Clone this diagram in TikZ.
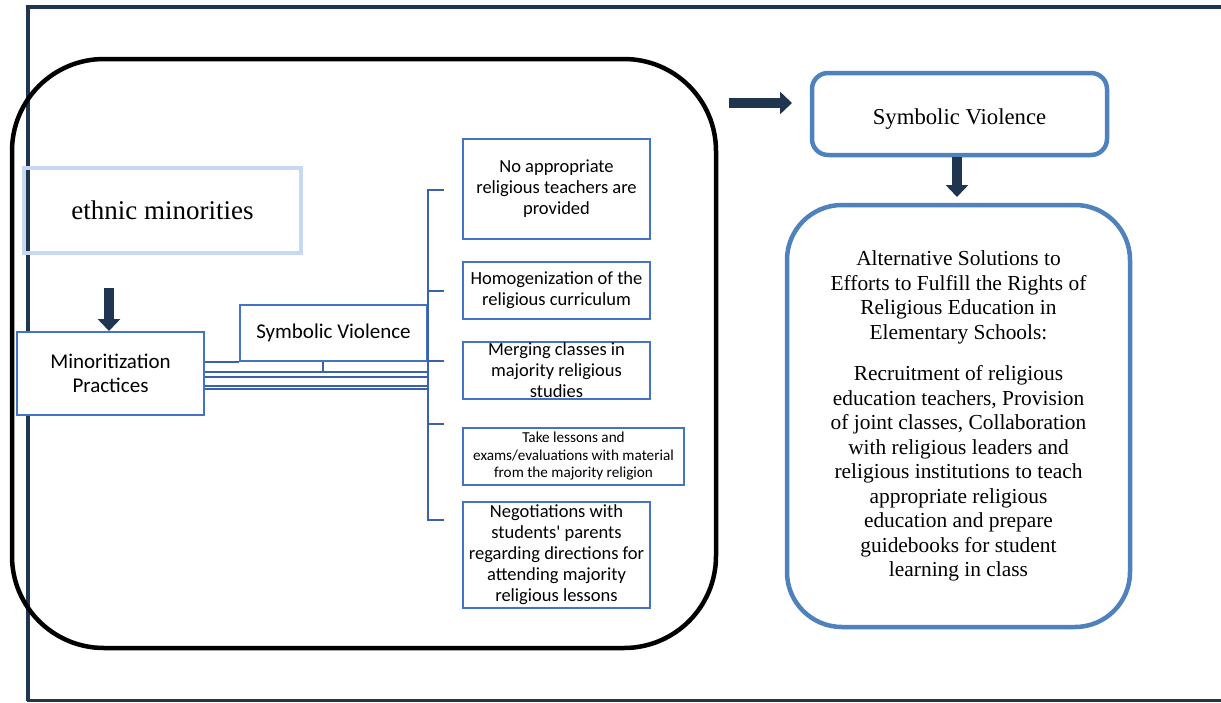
\documentclass[tikz,border=0pt]{standalone}
\usepackage{fontspec}
\setsansfont{Carlito}
\newfontfamily\timesf{Liberation Serif}
\usetikzlibrary{arrows.meta,calc}
\definecolor{navy}{HTML}{1F3550}
\definecolor{boxblue}{HTML}{4472C4}
\definecolor{lineblue}{HTML}{3A62AC}
\definecolor{paleblue}{HTML}{C6D9F1}
\definecolor{roundblue}{HTML}{4F81BD}
\tikzset{
  bbox/.style={draw=boxblue, line width=2pt, inner sep=0pt, align=center, fill=white},
  conn/.style={draw=lineblue, line width=2pt},
  fatarrow/.style={draw=navy, line width=10pt, -{Triangle[width=22pt,length=12pt]}},
  rbox/.style={draw=roundblue, line width=4.5pt, inner sep=0pt, align=center},
  sfbig/.style={font=\sffamily\fontsize{21}{23.5}\selectfont},
  sfmid/.style={font=\sffamily\fontsize{18.5}{21}\selectfont},
  sfsmall/.style={font=\sffamily\fontsize{15.2}{17.5}\selectfont},
}
\begin{document}
\begin{tikzpicture}[x=1pt,y=-1pt]
\useasboundingbox (0,0) rectangle (1221,702);
\fill[white] (0,0) rectangle (1221,702);
% outer frame
\draw[navy, line width=4pt] (1230,7) -- (28,7) -- (28,701);
\draw[navy, line width=3pt] (26.5,700.5) -- (1230,700.5);
% big rounded container
\node[draw=black, line width=4.5pt, rounded corners=92pt, minimum width=704pt, minimum height=589pt, inner sep=0pt] (frame) at (364,353.5) {};
% left nodes
\node[draw=paleblue, line width=3.5pt, minimum width=277pt, minimum height=85pt, inner sep=0pt, font=\timesf\fontsize{27}{30}\selectfont] (em) at (162.5,210.5) {ethnic minorities};
\node[bbox, sfbig, minimum width=187pt, minimum height=83pt] (mp) at (110.5,373.5) {Minoritization\\Practices};
\node[bbox, sfbig, minimum width=187pt, minimum height=56pt] (sv) at (333.5,333) {Symbolic Violence};
% right boxes
\node[bbox, sfmid, minimum width=187pt, minimum height=100pt] (b1) at (556.5,189) {No appropriate\\religious teachers are\\provided};
\node[bbox, sfmid, minimum width=187pt, minimum height=57pt] (b2) at (556.5,290.5) {Homogenization of the\\religious curriculum};
\node[bbox, minimum width=187pt, minimum height=57pt] (b3) at (556.5,370.5) {};
\node[sfmid, align=center, inner sep=0pt] at (b3.center) {Merging classes in\\majority religious\\studies};
\node[bbox, sfsmall, minimum width=221pt, minimum height=57pt] (b4) at (573.5,456.5) {Take lessons and\\exams/evaluations with material\\from the majority religion};
\node[bbox, minimum width=187pt, minimum height=106pt] (b5) at (556.5,555) {};
\node[sfmid, align=center, inner sep=0pt] at (b5.center) {Negotiations with\\students\textquotesingle{} parents\\regarding directions for\\attending majority\\religious lessons};
% connectors from Minoritization Practices
\draw[conn] (mp.east |- sv.south) -- (sv.south west);
\draw[conn] (mp.east |- 0,372) -- (sv.east |- 0,372);
\draw[conn] ($(sv.south)+(-10.5,0)$) -- ($(sv.south)+(-10.5,11)$);
\draw[conn] (mp.east |- 0,377) -- (sv.east |- 0,377);
\draw[conn] (mp.east |- 0,385.5) -- (sv.east |- 0,385.5);
\draw[conn] (mp.east |- 0,388.5) -- (sv.east |- 0,388.5);
% bracket
\coordinate (bt) at (sv.east |- 0,190);
\coordinate (bb) at (sv.east |- 0,520);
\draw[conn] ($(bt)+(16,0)$) -- (bt) -- (bb) -- ($(bb)+(16,0)$);
\draw[conn] (sv.east |- 0,291) -- ++(16,0);
\draw[conn] (sv.east |- 0,361) -- ++(16,0);
\draw[conn] (sv.east |- 0,424) -- ++(16,0);
% right side
\node[rbox, rounded corners=16pt, minimum width=295pt, minimum height=82pt] (rsv) at (959.5,114) {};
\node[inner sep=0pt, font=\timesf\fontsize{22.7}{25}\selectfont] at (959.5,119) {Symbolic Violence};
\node[rbox, rounded corners=55pt, minimum width=343pt, minimum height=422pt] (alt) at (958.5,416) {};
\node[inner sep=0pt, align=center, font=\timesf\fontsize{21.4}{24.5}\selectfont] at (alt.center) {Alternative Solutions to\\Efforts to Fulfill the Rights of\\Religious Education in\\Elementary Schools:\\[17pt]Recruitment of religious\\education teachers, Provision\\of joint classes, Collaboration\\with religious leaders and\\religious institutions to teach\\appropriate religious\\education and prepare\\guidebooks for student\\learning in class};
% arrows
\coordinate (a1s) at (109,288);
\draw[fatarrow] (a1s) -- (a1s |- mp.north);
\coordinate (a2s) at (729,103);
\coordinate (a2e) at (792,103);
\draw[fatarrow] (a2s) -- (a2e);
\coordinate (a3e) at (957,197);
\draw[fatarrow] (a3e |- rsv.south) -- (a3e);
\end{tikzpicture}
\end{document}
